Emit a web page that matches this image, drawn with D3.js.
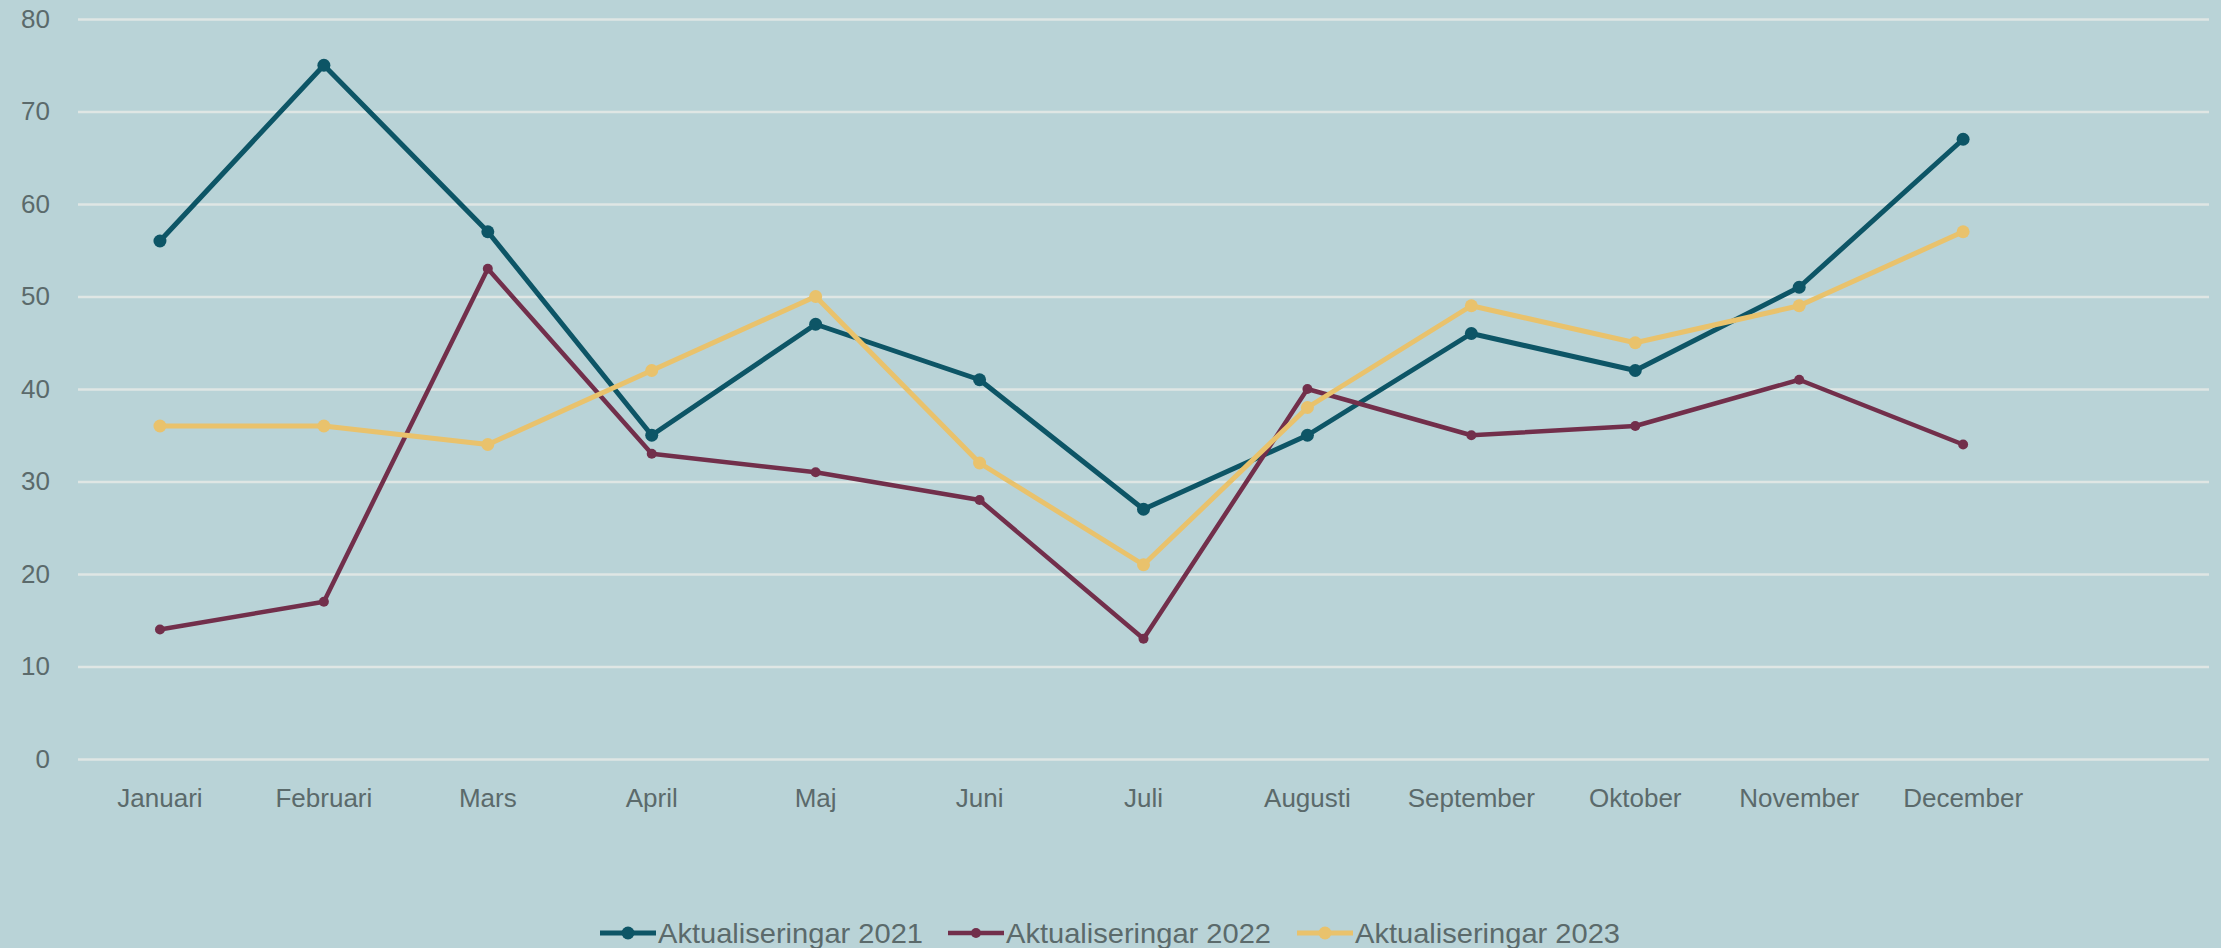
<!DOCTYPE html>
<html>
<head>
<meta charset="utf-8">
<script src="https://cdn.jsdelivr.net/npm/d3@7"></script>
<style>
  html, body { margin: 0; padding: 0; background: #b9d3d7; }
  svg { display: block; }
</style>
</head>
<body>
<div id="chart"></div>
<script>
// Line chart: Aktualiseringar per month, 2021-2023

var months = ['Januari', 'Februari', 'Mars', 'April', 'Maj', 'Juni', 'Juli',
              'Augusti', 'September', 'Oktober', 'November', 'December'];
var yTicks = [0, 10, 20, 30, 40, 50, 60, 70, 80];
var seriesNames = ['Aktualiseringar 2021', 'Aktualiseringar 2022', 'Aktualiseringar 2023'];
var values2021 = [56, 75, 57, 35, 47, 41, 27, 35, 46, 42, 51, 67];
var values2022 = [14, 17, 53, 33, 31, 28, 13, 40, 35, 36, 41, 34];
var values2023 = [36, 36, 34, 42, 50, 32, 21, 38, 49, 45, 49, 57];

var width = 2221;
var height = 948;
// plot area (note: can't use "top" as a global name, it's window.top)
var plotLeft = 78, plotRight = 2209, plotTop = 19, plotBottom = 759;
var bgColor = '#b9d3d7';
var gridColor = '#dfe6e4';
var textColor = '#5b6a6b';
var colors = ['#0d5566', '#722f4b', '#e9c26c'];
var lineWidths = [5, 4.5, 5];
var markerR = [6.5, 5, 6.5];

var series = [values2021, values2022, values2023].map(function (vals, i) {
      return { name: seriesNames[i], color: colors[i], lw: lineWidths[i], r: markerR[i],
               points: vals.map(function (v, j) { return { month: months[j], value: v }; }) };
});

var svg = d3.select('#chart').append('svg')
      .attr('width', width)
      .attr('height', height);

svg.append('rect')
      .attr('width', width)
      .attr('height', height)
      .attr('fill', bgColor);

// one extra empty category on the right, as in the original
var xScale = d3.scaleBand()
      .domain(months.concat(['']))
      .range([plotLeft, plotRight])
      .padding(0);

var yScale = d3.scaleLinear()
      .domain([0, 80])
      .range([plotBottom, plotTop]);

var xc = function (m) { return xScale(m) + xScale.bandwidth() / 2; };

// gridlines + y labels
var yAxis = d3.axisLeft(yScale)
      .tickValues(yTicks)
      .tickSize(-(plotRight - plotLeft))
      .tickPadding(28);

var gy = svg.append('g')
      .attr('transform', 'translate(' + plotLeft + ',0)')
      .call(yAxis);
gy.select('.domain').remove();
gy.selectAll('.tick line')
      .attr('stroke', gridColor)
      .attr('stroke-width', 2.5);
gy.selectAll('.tick text')
      .attr('fill', textColor)
      .style('font-family', '"Liberation Sans", Arial, sans-serif')
      .style('font-size', '26px');

// x labels
var xAxis = d3.axisBottom(xScale)
      .tickSize(0)
      .tickPadding(30);
var gx = svg.append('g')
      .attr('transform', 'translate(0,' + plotBottom + ')')
      .call(xAxis);
gx.select('.domain').remove();
gx.selectAll('.tick text')
      .attr('fill', textColor)
      .style('font-family', '"Liberation Sans", Arial, sans-serif')
      .style('font-size', '26px');

// lines and markers
var line = d3.line()
      .x(function (d) { return xc(d.month); })
      .y(function (d) { return yScale(d.value); });

series.forEach(function (s) {
      var g = svg.append('g');
      g.append('path')
            .datum(s.points)
            .attr('d', line)
            .attr('fill', 'none')
            .attr('stroke', s.color)
            .attr('stroke-width', s.lw)
            .attr('stroke-linejoin', 'round');
      g.selectAll('circle')
            .data(s.points)
            .enter()
            .append('circle')
            .attr('cx', function (d) { return xc(d.month); })
            .attr('cy', function (d) { return yScale(d.value); })
            .attr('r', s.r)
            .attr('fill', s.color);
});

// legend (text is condensed in the original, so force its width)
var legendX = [600, 948, 1297];
var legendY = 933;
var legend = svg.append('g');
series.forEach(function (s, i) {
      var item = legend.append('g')
            .attr('transform', 'translate(' + legendX[i] + ',' + legendY + ')');
      item.append('line')
            .attr('x1', 0).attr('x2', 56)
            .attr('y1', 0).attr('y2', 0)
            .attr('stroke', s.color)
            .attr('stroke-width', s.lw);
      item.append('circle')
            .attr('cx', 28).attr('cy', 0)
            .attr('r', s.r)
            .attr('fill', s.color);
      item.append('text')
            .attr('x', 58)
            .attr('y', 10)
            .attr('fill', textColor)
            .attr('textLength', 265)
            .attr('lengthAdjust', 'spacingAndGlyphs')
            .style('font-family', '"Liberation Sans", Arial, sans-serif')
            .style('font-size', '28px')
            .text(s.name);
});
</script>
</body>
</html>
